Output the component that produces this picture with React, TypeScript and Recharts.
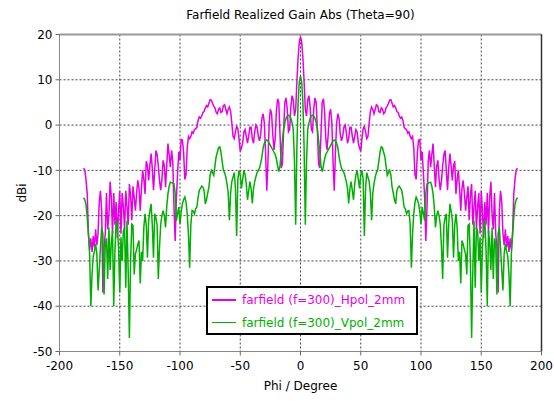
import { LineChart, Line, XAxis, YAxis, CartesianGrid, Legend, ReferenceLine } from 'recharts';

// Farfield realized gain (dBi) at Theta=90, phi sampled every degree from -180 to 180
const PHI_START = -180;

const HPOL_DBI = [
  -9.5, -10.0, -12.0, -15.2, -24.0, -27.5, -25.0, -28.0, -24.5, -27.0,
  -23.0, -26.5, -24.0, -17.0, -14.5, -19.0, -37.0, -27.0, -24.0, -15.0,
  -23.0, -20.0, -12.5, -16.0, -24.0, -15.0, -22.0, -17.0, -25.0, -19.0,
  -14.5, -24.0, -15.0, -18.0, -23.0, -14.5, -18.0, -22.0, -13.0, -15.5,
  -21.0, -13.5, -16.0, -18.9, -15.0, -12.2, -14.0, -18.9, -14.0, -10.0,
  -12.0, -15.2, -8.0, -9.0, -12.2, -9.0, -6.3, -9.5, -14.4, -10.0,
  -5.6, -6.5, -9.0, -12.2, -14.4, -12.0, -7.8, -9.0, -13.7, -9.0,
  -4.1, -6.5, -9.3, -5.6, -8.0, -18.0, -25.6, -16.0, -10.7, -5.9,
  -7.8, -3.2, -3.3, -6.0, -12.0, -11.0, -5.0, -2.5, -3.0, -2.5,
  -1.5, -1.8, -1.0, -0.8, -0.5, 1.0, 1.8, 1.5, 2.0, 2.8,
  3.0, 3.8, 4.3, 4.0, 4.8, 5.6, 5.5, 4.8, 4.2, 3.8,
  2.8, 2.5, 3.5, 3.8, 2.8, 3.0, 4.3, 4.5, 3.5, 2.5,
  3.5, 4.0, 3.0, 0.5, -2.5, -3.0, -1.5, -0.3, -0.8, -3.0,
  -5.8, -5.0, -4.0, -1.5, -1.0, -2.5, -4.0, -2.5, -0.5, -0.5,
  -3.0, -4.0, -1.5, 0.0, -0.5, -2.5, -3.5, -2.0, 1.5, 2.5,
  0.5, -6.0, -14.5, -8.0, 0.5, 3.5, 2.5, -2.0, -5.5, -3.0,
  3.0, 5.8, 5.0, -2.0, -9.5, -8.5, -1.0, 5.0, 6.0, 3.5,
  -1.5, -1.0, 4.0, 6.5, 5.5, 2.0, 3.5, 9.5, 14.8, 18.3,
  19.5, 18.3, 14.8, 9.5, 3.5, 2.0, 5.5, 6.5, 4.0, -1.0,
  -1.5, 3.5, 6.0, 5.0, -1.0, -8.5, -9.5, -2.0, 5.0, 5.8,
  3.0, -3.0, -5.5, -2.0, 2.5, 3.5, 0.5, -8.0, -14.5, -6.0,
  0.5, 2.5, 1.5, -2.0, -3.5, -2.5, -0.5, 0.0, -1.5, -4.0,
  -3.0, -0.5, -0.5, -2.5, -4.0, -2.5, -1.0, -1.5, -4.0, -5.0,
  -5.8, -3.0, -0.8, -0.3, -1.5, -3.0, -2.5, 0.5, 3.0, 4.0,
  3.5, 2.5, 3.5, 4.5, 4.3, 3.0, 2.8, 3.8, 3.5, 2.5,
  2.8, 3.8, 4.2, 4.8, 5.5, 5.6, 4.8, 4.0, 4.3, 3.8,
  3.0, 2.8, 2.0, 1.5, 1.8, 1.0, -0.5, -0.8, -1.0, -1.8,
  -1.5, -2.5, -3.0, -2.5, -5.0, -11.0, -12.0, -6.0, -3.3, -3.2,
  -7.8, -5.9, -10.7, -16.0, -25.6, -18.0, -8.0, -5.6, -9.3, -6.5,
  -4.1, -9.0, -13.7, -9.0, -7.8, -12.0, -14.4, -12.2, -9.0, -6.5,
  -5.6, -10.0, -14.4, -9.5, -6.3, -9.0, -12.2, -9.0, -8.0, -15.2,
  -12.0, -10.0, -14.0, -18.9, -14.0, -12.2, -15.0, -18.9, -16.0, -13.5,
  -21.0, -15.5, -13.0, -22.0, -18.0, -14.5, -23.0, -18.0, -15.0, -24.0,
  -14.5, -19.0, -25.0, -17.0, -22.0, -15.0, -24.0, -16.0, -12.5, -20.0,
  -23.0, -15.0, -24.0, -27.0, -37.0, -19.0, -14.5, -17.0, -24.0, -26.5,
  -23.0, -27.0, -24.5, -28.0, -25.0, -27.5, -24.0, -15.2, -12.0, -10.0,
  -9.5,
];

const VPOL_DBI = [
  -16.0, -16.5, -17.5, -20.4, -24.0, -28.5, -40.0, -33.0, -29.0, -27.8,
  -26.3, -28.5, -36.5, -32.0, -27.0, -22.6, -24.0, -37.4, -26.3, -25.0,
  -34.0, -22.6, -32.0, -26.0, -23.3, -40.0, -28.0, -21.1, -22.6, -27.0,
  -37.0, -24.8, -30.0, -23.5, -22.6, -35.9, -21.1, -32.2, -47.0, -30.0,
  -21.9, -22.2, -33.0, -28.5, -27.5, -26.3, -25.5, -35.0, -28.0, -30.0,
  -22.6, -19.6, -22.0, -29.3, -21.1, -19.0, -17.4, -22.0, -29.3, -19.6,
  -20.5, -22.0, -34.0, -27.0, -21.9, -20.0, -18.9, -20.0, -22.6, -18.0,
  -15.2, -13.5, -12.6, -12.7, -12.8, -13.0, -15.0, -21.1, -19.5, -18.1,
  -21.9, -19.0, -17.4, -16.5, -15.9, -17.0, -19.6, -24.0, -31.5, -22.0,
  -18.9, -19.0, -19.6, -18.5, -18.1, -16.0, -14.4, -14.0, -13.5, -13.7,
  -14.5, -17.4, -16.5, -15.0, -13.7, -11.0, -10.0, -10.5, -11.1, -9.0,
  -7.0, -6.0, -5.0, -4.8, -6.0, -8.0, -10.0, -10.5, -11.5, -13.0,
  -15.0, -21.0, -15.0, -12.5, -11.5, -10.5, -14.0, -24.5, -12.0, -10.0,
  -11.0, -14.0, -12.0, -10.0, -11.0, -13.0, -16.5, -14.5, -12.5, -14.0,
  -17.3, -14.0, -12.5, -11.4, -10.5, -10.0, -9.5, -8.4, -7.0, -5.0,
  -4.0, -3.5, -3.3, -3.5, -4.0, -4.5, -5.0, -5.5, -6.0, -6.5,
  -7.5, -9.0, -10.3, -9.0, -6.0, -3.3, -1.0, 0.5, 1.5, 2.0,
  2.2, 2.0, 1.5, 0.5, -1.0, -8.0, -22.0, -5.0, 5.0, 9.5,
  10.8, 9.5, 5.0, -5.0, -22.0, -8.0, -1.0, 0.5, 1.5, 2.0,
  2.2, 2.0, 1.5, 0.5, -1.0, -3.3, -6.0, -9.0, -10.3, -9.0,
  -7.5, -6.5, -6.0, -5.5, -5.0, -4.5, -4.0, -3.5, -3.3, -3.5,
  -4.0, -5.0, -7.0, -8.4, -9.5, -10.0, -10.5, -11.4, -12.5, -14.0,
  -17.3, -14.0, -12.5, -14.5, -16.5, -13.0, -11.0, -10.0, -12.0, -14.0,
  -11.0, -10.0, -12.0, -24.5, -14.0, -10.5, -11.5, -12.5, -15.0, -21.0,
  -15.0, -13.0, -11.5, -10.5, -10.0, -8.0, -6.0, -4.8, -5.0, -6.0,
  -7.0, -9.0, -11.1, -10.5, -10.0, -11.0, -13.7, -15.0, -16.5, -17.4,
  -14.5, -13.7, -13.5, -14.0, -14.4, -16.0, -18.1, -18.5, -19.6, -19.0,
  -18.9, -22.0, -31.5, -24.0, -19.6, -17.0, -15.9, -16.5, -17.4, -19.0,
  -21.9, -18.1, -19.5, -21.1, -15.0, -13.0, -12.8, -12.7, -12.6, -13.5,
  -15.2, -18.0, -22.6, -20.0, -18.9, -20.0, -21.9, -27.0, -34.0, -22.0,
  -20.5, -19.6, -29.3, -22.0, -17.4, -19.0, -21.1, -29.3, -22.0, -19.6,
  -22.6, -30.0, -28.0, -35.0, -25.5, -26.3, -27.5, -28.5, -33.0, -22.2,
  -21.9, -30.0, -47.0, -32.2, -21.1, -35.9, -22.6, -23.5, -30.0, -24.8,
  -37.0, -27.0, -22.6, -21.1, -28.0, -40.0, -23.3, -26.0, -32.0, -22.6,
  -34.0, -25.0, -26.3, -37.4, -24.0, -22.6, -27.0, -32.0, -36.5, -28.5,
  -26.3, -27.8, -29.0, -33.0, -40.0, -28.5, -24.0, -20.4, -17.5, -16.5,
  -16.0,
];

const X_TICKS = [-200, -150, -100, -50, 0, 50, 100, 150, 200];
const Y_TICKS = [-50, -40, -30, -20, -10, 0, 10, 20];

const HPOL_NAME = 'farfield (f=300)_Hpol_2mm';
const VPOL_NAME = 'farfield (f=300)_Vpol_2mm';

const HPOL_COLOR = '#e600e6';
const VPOL_COLOR = '#00b000';
const FONT = '"DejaVu Sans", Verdana, sans-serif';

const data = HPOL_DBI.map((h, i) => ({
  phi: PHI_START + i,
  hpol: h,
  vpol: VPOL_DBI[i],
}));

const tickStyle = { fill: '#000', fontSize: 12, fontFamily: FONT };

function LegendBox() {
  const rows = [
    { name: HPOL_NAME, color: HPOL_COLOR },
    { name: VPOL_NAME, color: VPOL_COLOR },
  ];
  return (
    <div
      style={{
        position: 'relative',
        width: 212,
        height: 49,
        boxSizing: 'border-box',
        border: '2px solid #000',
        background: '#fff',
        fontFamily: FONT,
        fontSize: 12,
      }}
    >
      {rows.map((r, i) => (
        <div key={r.name} style={{ position: 'absolute', left: 0, top: 5 + i * 22.5, height: 14, width: 208 }}>
          <div style={{ position: 'absolute', left: 4, top: 6, width: 24, height: 1.5, background: r.color }} />
          <span style={{ position: 'absolute', left: 34, top: -1, color: r.color, whiteSpace: 'nowrap', lineHeight: '16px' }}>
            {r.name}
          </span>
        </div>
      ))}
    </div>
  );
}

export default function App() {
  return (
    <div style={{ position: 'absolute', left: 0, top: 0, width: 554, height: 403, background: '#fff' }}>
      <div
        style={{
          position: 'absolute',
          left: 59.5,
          top: 9,
          width: 482,
          textAlign: 'center',
          fontFamily: FONT,
          fontSize: 12,
          lineHeight: '12px',
          color: '#000',
        }}
      >
        Farfield Realized Gain Abs (Theta=90)
      </div>
      <div
        style={{
          position: 'absolute',
          left: 22,
          top: 193,
          transform: 'translate(-50%, -50%) rotate(-90deg)',
          fontFamily: FONT,
          fontSize: 12,
          lineHeight: '12px',
          color: '#000',
          whiteSpace: 'nowrap',
        }}
      >
        dBi
      </div>
      <LineChart
        width={554}
        height={403}
        data={data}
        margin={{ top: 34.5, right: 12.5, bottom: 21.5, left: 14.5 }}
      >
        <CartesianGrid stroke="#444" strokeDasharray="2 2" strokeWidth={1} />
        <XAxis
          dataKey="phi"
          type="number"
          domain={[-200, 200]}
          ticks={X_TICKS}
          height={30}
          tickSize={4}
          tickMargin={6}
          tick={tickStyle}
          axisLine={{ stroke: '#888' }}
          tickLine={{ stroke: '#666' }}
          label={{ value: 'Phi / Degree', position: 'bottom', offset: 0, fill: '#000', fontSize: 12, fontFamily: FONT }}
        />
        <YAxis
          type="number"
          domain={[-50, 20]}
          ticks={Y_TICKS}
          width={45}
          tickSize={4}
          tickMargin={3}
          tick={tickStyle}
          axisLine={{ stroke: '#888' }}
          tickLine={{ stroke: '#666' }}
          allowDataOverflow
        />
        <ReferenceLine y={20} stroke="#999" strokeWidth={2} />
        <ReferenceLine x={200} stroke="#333" strokeWidth={1.5} />
        <Line
          type="linear"
          dataKey="hpol"
          name={HPOL_NAME}
          stroke={HPOL_COLOR}
          strokeWidth={1.5}
          dot={false}
          isAnimationActive={false}
        />
        <Line
          type="linear"
          dataKey="vpol"
          name={VPOL_NAME}
          stroke={VPOL_COLOR}
          strokeWidth={1.5}
          dot={false}
          isAnimationActive={false}
        />
        <Legend
          layout="vertical"
          align="center"
          verticalAlign="middle"
          wrapperStyle={{ left: 206, top: 286, width: 212 }}
          content={() => <LegendBox />}
        />
      </LineChart>
    </div>
  );
}
